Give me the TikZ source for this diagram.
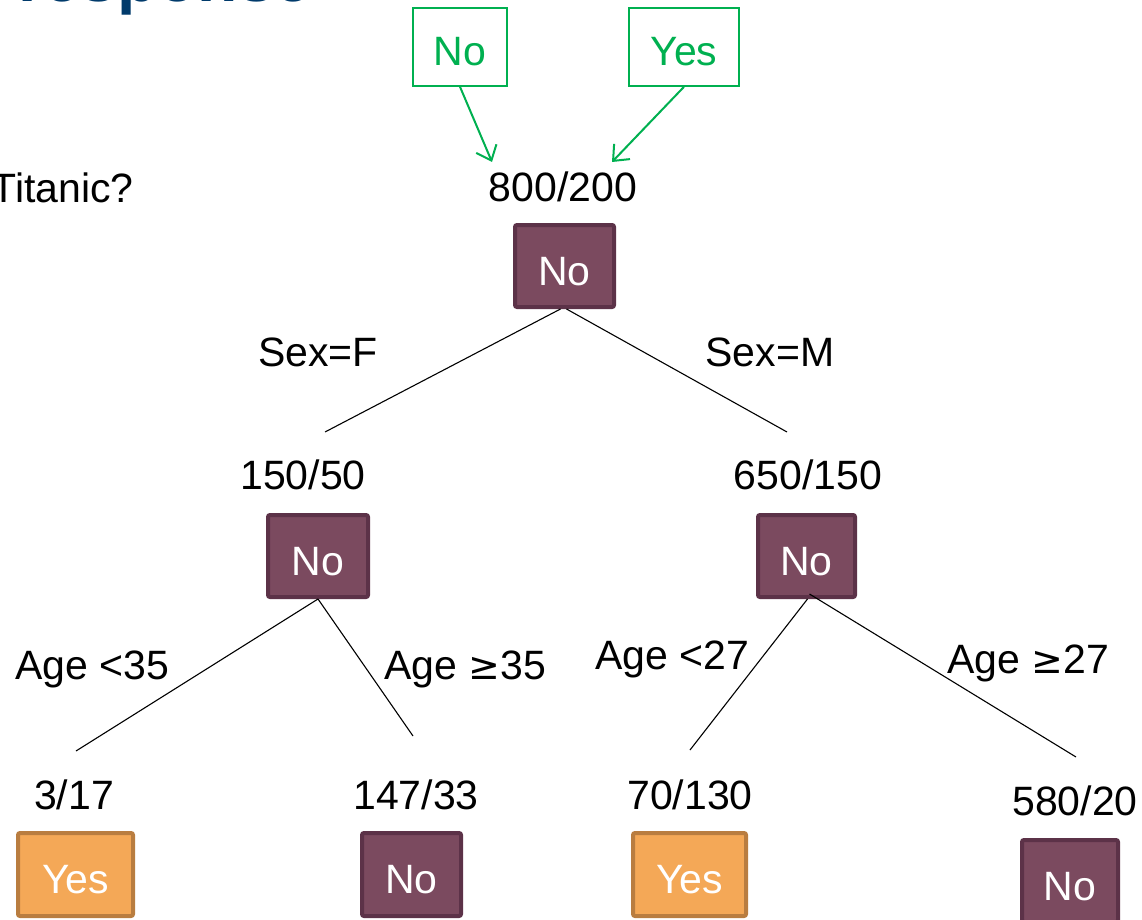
\documentclass[tikz,border=0pt]{standalone}
\usepackage{fontspec}
\setmainfont{Liberation Sans}
\newfontfamily\symfont{DejaVu Sans}
\usetikzlibrary{arrows.meta}
\definecolor{maroonfill}{HTML}{7B4A5F}
\definecolor{maroonedge}{HTML}{5C3248}
\definecolor{orangefill}{HTML}{F4A857}
\definecolor{orangeedge}{HTML}{B97D40}
\definecolor{greenc}{HTML}{00B050}
\definecolor{titleblue}{HTML}{003A6B}
\newcommand{\bigfs}{\fontsize{41}{49}\selectfont}
\newcommand{\gesym}{{\symfont\fontsize{38}{45}\selectfont ≥}}
\tikzset{
  lbl/.style={inner sep=0pt, font=\bigfs, text=black},
  lowtext/.style={text height=38pt, text depth=0pt},
  nobox/.style={draw=maroonedge, fill=maroonfill, line width=4pt, rounded corners=2pt,
     text=white, font=\bigfs, inner sep=0pt, minimum height=82pt, lowtext},
  yesbox/.style={draw=orangeedge, fill=orangefill, line width=4pt, rounded corners=2pt,
     text=white, font=\bigfs, inner sep=0pt, minimum height=83pt, lowtext},
  gbox/.style={draw=greenc, line width=1.6pt, text=greenc, font=\bigfs, inner sep=0pt,
     minimum height=78pt, lowtext},
  gar/.style={draw=greenc, line width=2pt, -{Straight Barb[length=13pt,width=22pt,line width=2pt]}},
  edge/.style={draw=black, line width=1.1pt}
}
\begin{document}
\begin{tikzpicture}[x=1pt,y=-1pt]
\useasboundingbox (0,0) rectangle (1142,920);
% cropped title and question
\node[anchor=base west, inner sep=0pt, text=titleblue, font=\bfseries\fontsize{66}{72}\selectfont] (title) at (18,2) {response};
\node[lbl, anchor=east] (question) at (134,188) {Titanic?};
% green answer boxes
\node[gbox, minimum width=94pt] (gno) at (460,47) {No};
\node[gbox, minimum width=110pt] (gyes) at (684,47) {Yes};
\coordinate (tipno) at (492,162);
\coordinate (tipyes) at (612,162);
\draw[gar] (gno.south) -- (tipno);
\draw[gar] (gyes.south) -- (tipyes);
% root
\node[lbl] (c0) at (563,187) {800/200};
\node[nobox, minimum width=99pt] (root) at (564.5,266) {No};
\node[lbl] (sexf) at (318,352) {Sex=F};
\node[lbl] (sexm) at (770,352) {Sex=M};
\coordinate (eL) at (325,432);
\coordinate (eR) at (787,432);
\draw[edge] ([xshift=-4pt]root.south) -- (eL);
\draw[edge] ([xshift=2pt]root.south) -- (eR);
% level 2
\node[lbl] (c1) at (303,475) {150/50};
\node[lbl] (c2) at (808,475) {650/150};
\node[nobox, minimum width=100pt] (nL) at (318,556) {No};
\node[nobox, minimum width=97pt] (nR) at (806.5,556) {No};
\node[lbl] (a35l) at (92,669) {Age <35};
\node[lbl] (a35r) at (465,669) {Age \gesym35};
\node[lbl] (a27l) at (672,659) {Age <27};
\node[lbl] (a27r) at (1028,663) {Age \gesym27};
\coordinate (eLL) at (76,751);
\coordinate (eLR) at (413,736);
\coordinate (eRL) at (690,750);
\coordinate (eRR) at (1076,757);
\draw[edge] (nL.south) -- (eLL);
\draw[edge] (nL.south) -- (eLR);
\draw[edge] ([xshift=1pt]nR.south) -- (eRL);
\draw[edge] ([xshift=3pt,yshift=5pt]nR.south) -- (eRR);
% leaves
\node[lbl] (c3) at (74,795) {3/17};
\node[lbl] (c4) at (416,795) {147/33};
\node[lbl] (c5) at (690,795) {70/130};
\node[lbl] (c6) at (1075,801) {580/20};
\node[yesbox, minimum width=115pt] (lLL) at (75.5,874.5) {Yes};
\node[nobox, minimum width=99pt, minimum height=83pt] (lLR) at (411.5,874.5) {No};
\node[yesbox, minimum width=113pt] (lRL) at (689.5,874.5) {Yes};
\node[nobox, minimum width=96pt] (lRR) at (1070,881) {No};
\end{tikzpicture}
\end{document}
